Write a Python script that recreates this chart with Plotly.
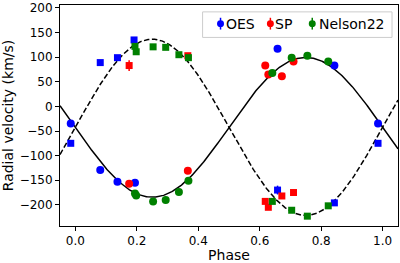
import numpy as np
import plotly.graph_objects as go

# ---- data ----
# OES (blue)
oes_c_phase = [-0.015, 0.081, 0.137, 0.194, 0.658, 0.843, 0.985]
oes_c_rv = [-35, -129, -153, -155, 117, 83, -35]
oes_c_err = [3, 3, 3, 3, 4, 3, 3]
oes_s_phase = [-0.015, 0.081, 0.137, 0.191, 0.658, 0.843, 0.985]
oes_s_rv = [-75, 89, 99, 135, -170, -196, -75]
oes_s_err = [3, 3, 3, 3, 9, 3, 3]

# SP (red)
sp_c_phase = [0.175, 0.366, 0.618, 0.628, 0.672, 0.710]
sp_c_rv = [-157, -131, 83, 65, 61, 91]
sp_c_err = [3, 3, 3, 3, 3, 7]
sp_s_phase = [0.175, 0.366, 0.618, 0.628, 0.672, 0.710]
sp_s_rv = [83, 103, -193, -205, -182, -175]
sp_s_err = [11, 3, 3, 3, 3, 3]

# Nelson22 (green)
ne_c_phase = [0.194, 0.198, 0.253, 0.294, 0.337, 0.368, 0.641, 0.704, 0.755, 0.823]
ne_c_rv = [-177, -181, -193, -190, -174, -151, 68, 99, 103, 91]
ne_c_err = [2] * 10
ne_s_phase = [0.194, 0.198, 0.253, 0.294, 0.337, 0.368, 0.641, 0.704, 0.755, 0.823]
ne_s_rv = [122, 111, 121, 120, 105, 99, -193, -211, -223, -202]
ne_s_err = [2] * 10

# orbital model parameters (circular orbit)
gamma = -42.5
K1 = 142.0
K2 = 179.0

legend_names = ["OES", "SP", "Nelson22"]
legend_colors = ["#0000ff", "#ff0000", "#008000"]

x_ticks = [0.0, 0.2, 0.4, 0.6, 0.8, 1.0]
y_ticks = [-200, -150, -100, -50, 0, 50, 100, 150, 200]

model_phase = np.linspace(-0.05, 1.05, 400)
model_primary = gamma - K1 * np.sin(2 * np.pi * model_phase)
model_secondary = gamma + K2 * np.sin(2 * np.pi * model_phase)

FONT = "DejaVu Sans"
W, H = 400, 263
ML, MR, MT, MB = 60, 1, 2, 36
PW, PH = W - ML - MR, H - MT - MB


def px(xpix):
    return (xpix - ML) / PW


def py(ypix):
    return (H - MB - ypix) / PH


fig = go.Figure()
fig.add_trace(go.Scatter(x=model_phase, y=model_primary, mode="lines",
                         line=dict(color="black", width=1.5), showlegend=False,
                         hoverinfo="skip"))
fig.add_trace(go.Scatter(x=model_phase, y=model_secondary, mode="lines",
                         line=dict(color="black", width=1.5, dash="5.5px,2.5px"),
                         showlegend=False, hoverinfo="skip"))

series = [
    (oes_c_phase, oes_c_rv, oes_c_err, oes_s_phase, oes_s_rv, oes_s_err),
    (sp_c_phase, sp_c_rv, sp_c_err, sp_s_phase, sp_s_rv, sp_s_err),
    (ne_c_phase, ne_c_rv, ne_c_err, ne_s_phase, ne_s_rv, ne_s_err),
]
for (cp, cv, ce, sp_, sv, se), name, col in zip(series, legend_names, legend_colors):
    fig.add_trace(go.Scatter(
        x=sp_, y=sv, mode="markers", name=name, showlegend=False,
        marker=dict(symbol="square", size=7, color=col),
        error_y=dict(type="data", array=se, color=col, thickness=1.5, width=0)))
    fig.add_trace(go.Scatter(
        x=cp, y=cv, mode="markers", name=name, showlegend=False,
        marker=dict(symbol="circle", size=8, color=col),
        error_y=dict(type="data", array=ce, color=col, thickness=1.5, width=0)))

# ---- legend box drawn like matplotlib's ----
shapes = [dict(type="rect", xref="paper", yref="paper",
               x0=px(203), x1=px(393), y0=py(35), y1=py(9),
               line=dict(color="#cccccc", width=1), fillcolor="rgba(255,255,255,0.8)",
               layer="above")]
annotations = []
marker_x = [221, 271, 313]
text_x = [225, 275, 319]
ly = 21
for name, col, mx, tx in zip(legend_names, legend_colors, marker_x, text_x):
    shapes.append(dict(type="line", xref="paper", yref="paper",
                       x0=px(mx), x1=px(mx), y0=py(ly + 6), y1=py(ly - 6),
                       line=dict(color=col, width=1.5), layer="above"))
    shapes.append(dict(type="circle", xref="paper", yref="paper",
                       x0=px(mx - 3.5), x1=px(mx + 3.5), y0=py(ly + 3.5), y1=py(ly - 3.5),
                       line=dict(color=col, width=0), fillcolor=col, layer="above"))
    annotations.append(dict(xref="paper", yref="paper", x=px(tx), y=py(ly),
                            xanchor="left", yanchor="middle", text=name, showarrow=False,
                            font=dict(family=FONT, size=14, color="black"), borderpad=0))

fig.update_layout(
    width=W, height=H,
    margin=dict(l=ML, r=MR, t=MT, b=MB),
    paper_bgcolor="white", plot_bgcolor="white",
    font=dict(family=FONT, size=12, color="black"),
    showlegend=False,
    shapes=shapes, annotations=annotations,
)
fig.update_xaxes(range=[-0.05, 1.05], tickvals=x_ticks, tickformat=".1f",
                 showgrid=False, zeroline=False, showline=True, linecolor="black",
                 linewidth=1, mirror=True, ticks="outside", ticklen=4, tickcolor="black",
                 title=dict(text="Phase", font=dict(size=14), standoff=4))
fig.update_yaxes(range=[-243, 206], tickvals=y_ticks, ticklabeloverflow="allow",
                 showgrid=False, zeroline=False, showline=True, linecolor="black",
                 linewidth=1, mirror=True, ticks="outside", ticklen=4, tickcolor="black",
                 title=dict(text="Radial velocity (km/s)", font=dict(size=14), standoff=6))

fig.write_html("out.html")
